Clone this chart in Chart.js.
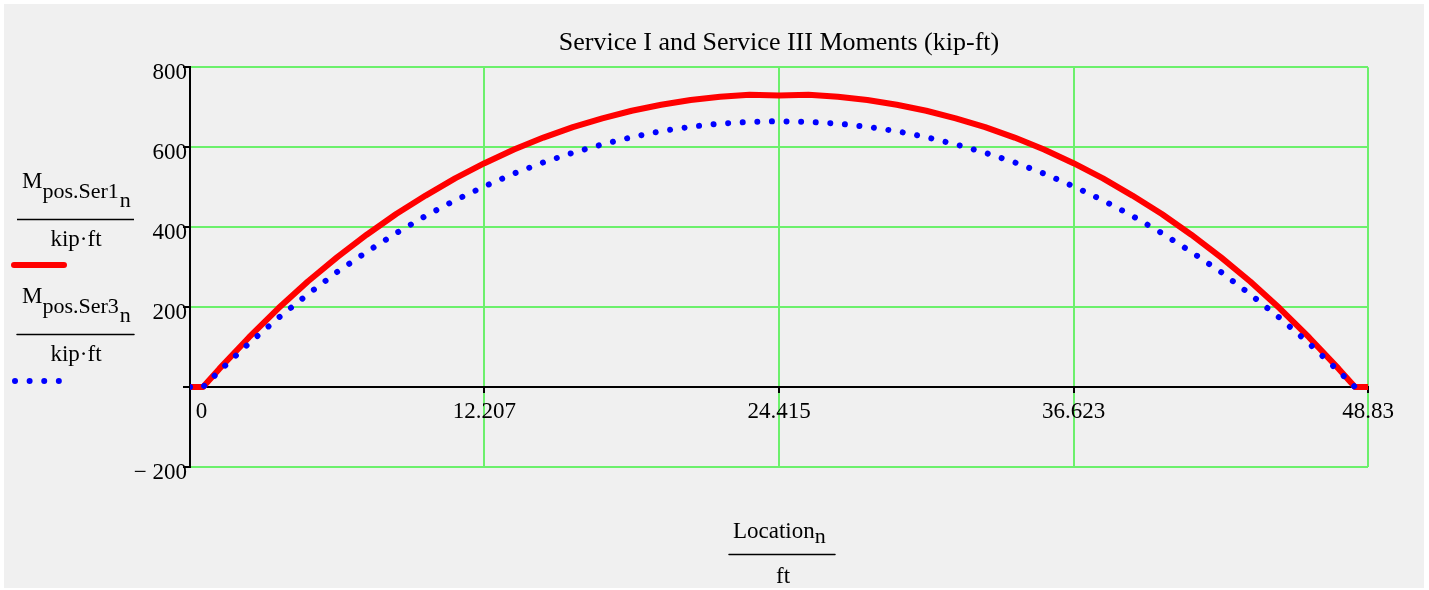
<!DOCTYPE html>
<html>
<head>
<meta charset="utf-8">
<title>Service I and Service III Moments</title>
<script src="https://cdn.jsdelivr.net/npm/chart.js@4.4.0/dist/chart.umd.min.js"></script>
<style>
  html, body { margin: 0; padding: 0; background: #fff; }
  #wrap { width: 1429px; height: 590px; }
</style>
</head>
<body>
<div id="wrap"><canvas id="canvas" width="1429" height="590"></canvas></div>
<script>
// beam locations (ft) and service moments (kip-ft)
var location_ft = [0, 0.54, 1.221, 2.441, 3.662, 4.883, 6.104, 7.324, 8.545, 9.766, 10.987,
    12.207, 13.428, 14.649, 15.87, 17.09, 18.311, 19.532, 20.753, 21.973, 23.194, 24.415,
    25.636, 26.857, 28.077, 29.298, 30.519, 31.74, 32.96, 34.181, 35.402, 36.623, 37.843,
    39.064, 40.285, 41.506, 42.726, 43.947, 45.168, 46.389, 47.609, 48.29, 48.83];
var momentSer1 = [0, 0, 46, 124, 197, 264, 325, 381, 433, 479, 522,
    560, 594, 624, 650, 672, 691, 706, 718, 726, 731, 729,
    731, 726, 718, 706, 691, 672, 650, 624, 594, 560, 522,
    479, 433, 381, 325, 264, 197, 124, 46, 0, 0];
var momentSer3 = [0, 0, 40, 109, 173, 232, 288, 338, 385, 428, 467,
    502, 534, 562, 586, 607, 625, 640, 651, 659, 663, 665,
    663, 659, 651, 640, 625, 607, 586, 562, 534, 502, 467,
    428, 385, 338, 288, 232, 173, 109, 40, 0, 0];

var xTicks = [0, 12.207, 24.415, 36.623, 48.83];
var xTickLabels = ['    0', '12.207', '24.415', '36.623', '48.83'];
var yTicks = [-200, 0, 200, 400, 600, 800];
var yTickLabels = ['\u2212 200', '', '200', '400', '600', '800'];

var SERIF = "'Liberation Serif', 'Times New Roman', serif";
var GRID = '#6cf06c';

function points(xs, ys) {
    return xs.map(function (x, i) { return { x: x, y: ys[i] }; });
}

// name with a subscript (and optionally a sub-subscript), Mathcad style
function mathName(ctx, x, base, main, sub, dy1, subsub, dy2) {
    ctx.font = '23px ' + SERIF;
    ctx.fillText(main, x, base);
    x += ctx.measureText(main).width;
    ctx.font = '22px ' + SERIF;
    ctx.fillText(sub, x, base + dy1);
    x += ctx.measureText(sub).width + 1;
    if (subsub) {
        ctx.fillText(subsub, x, base + dy2);
    }
}

function bar(ctx, x1, x2, y) {
    ctx.beginPath();
    ctx.moveTo(x1, y);
    ctx.lineTo(x2, y);
    ctx.lineWidth = 1.5;
    ctx.strokeStyle = '#000';
    ctx.stroke();
}

var backdrop = {
    id: 'backdrop',
    beforeDraw: function (chart) {
        var ctx = chart.ctx;
        ctx.save();
        ctx.fillStyle = '#fff';
        ctx.fillRect(0, 0, chart.width, chart.height);
        ctx.fillStyle = '#f0f0f0';
        ctx.fillRect(4, 4, 1420, 584);
        ctx.restore();
    }
};

// axis names and the trace keys on the left
var axisNames = {
    id: 'axisNames',
    afterDraw: function (chart) {
        var ctx = chart.ctx;
        ctx.save();
        ctx.fillStyle = '#000';
        ctx.textBaseline = 'alphabetic';
        ctx.textAlign = 'left';

        mathName(ctx, 22, 188, 'M', 'pos.Ser1', 10, 'n', 19);
        bar(ctx, 17, 134, 219.5);
        ctx.font = '23px ' + SERIF;
        ctx.textAlign = 'center';
        ctx.fillText('kip\u00b7ft', 76, 246);
        ctx.textAlign = 'left';

        ctx.beginPath();
        ctx.moveTo(14, 265);
        ctx.lineTo(64, 265);
        ctx.lineWidth = 6;
        ctx.lineCap = 'round';
        ctx.strokeStyle = '#ff0000';
        ctx.stroke();

        mathName(ctx, 22, 303, 'M', 'pos.Ser3', 10, 'n', 19);
        bar(ctx, 17, 134, 334.5);
        ctx.font = '23px ' + SERIF;
        ctx.textAlign = 'center';
        ctx.fillText('kip\u00b7ft', 76, 361);
        ctx.textAlign = 'left';

        ctx.beginPath();
        ctx.moveTo(15, 381);
        ctx.lineTo(60, 381);
        ctx.lineWidth = 6;
        ctx.lineCap = 'round';
        ctx.setLineDash([0.01, 14.6]);
        ctx.strokeStyle = '#0000ff';
        ctx.stroke();
        ctx.setLineDash([]);

        mathName(ctx, 733, 538, 'Location', 'n', 5);
        bar(ctx, 729, 835, 554.5);
        ctx.font = '23px ' + SERIF;
        ctx.textAlign = 'center';
        ctx.fillText('ft', 783, 583);
        ctx.restore();
    }
};

window.onload = function () {
    var ctx = document.getElementById('canvas').getContext('2d');
    window.myChart = new Chart(ctx, {
        type: 'line',
        data: {
            datasets: [{
                label: 'Mpos.Ser3',
                data: points(location_ft, momentSer3),
                borderColor: '#0000ff',
                borderWidth: 6,
                borderDash: [0.01, 14.6],
                borderCapStyle: 'round',
                pointRadius: 0,
                tension: 0,
                order: 0
            }, {
                label: 'Mpos.Ser1',
                data: points(location_ft, momentSer1),
                borderColor: '#ff0000',
                borderWidth: 6,
                borderJoinStyle: 'round',
                pointRadius: 0,
                tension: 0,
                order: 1
            }]
        },
        options: {
            responsive: false,
            animation: false,
            devicePixelRatio: 1,
            layout: { padding: { left: 110, right: 61, top: 0, bottom: 123 } },
            plugins: {
                legend: { display: false },
                tooltip: { enabled: false },
                title: {
                    display: true,
                    fullSize: false,
                    text: 'Service I and Service III Moments (kip-ft)',
                    color: '#000',
                    font: { family: SERIF, size: 26, weight: 'normal' },
                    padding: { top: 28, bottom: 8 }
                }
            },
            scales: {
                x: {
                    type: 'linear',
                    position: { y: 0 },
                    min: 0,
                    max: 48.83,
                    afterBuildTicks: function (scale) {
                        scale.ticks = xTicks.map(function (v) { return { value: v }; });
                    },
                    border: { display: true, color: '#000', width: 2 },
                    grid: { color: GRID, lineWidth: 2, drawTicks: true, tickLength: 5, tickColor: '#000', tickWidth: 2 },
                    ticks: {
                        color: '#000',
                        font: { family: SERIF, size: 23 },
                        padding: 6,
                        maxRotation: 0,
                        autoSkip: false,
                        callback: function (value, index) { return xTickLabels[index]; }
                    }
                },
                y: {
                    position: 'left',
                    min: -200,
                    max: 800,
                    afterBuildTicks: function (scale) {
                        scale.ticks = yTicks.map(function (v) { return { value: v }; });
                    },
                    afterFit: function (scale) { scale.width = 80; },
                    border: { display: true, color: '#000', width: 2 },
                    grid: { color: GRID, lineWidth: 2, drawTicks: true, tickLength: 7, tickColor: '#000', tickWidth: 2 },
                    ticks: {
                        color: '#000',
                        font: { family: SERIF, size: 23 },
                        padding: -4,
                        labelOffset: 6,
                        autoSkip: false,
                        callback: function (value, index) { return yTickLabels[index]; }
                    }
                }
            }
        },
        plugins: [backdrop, axisNames]
    });
};
</script>
</body>
</html>
